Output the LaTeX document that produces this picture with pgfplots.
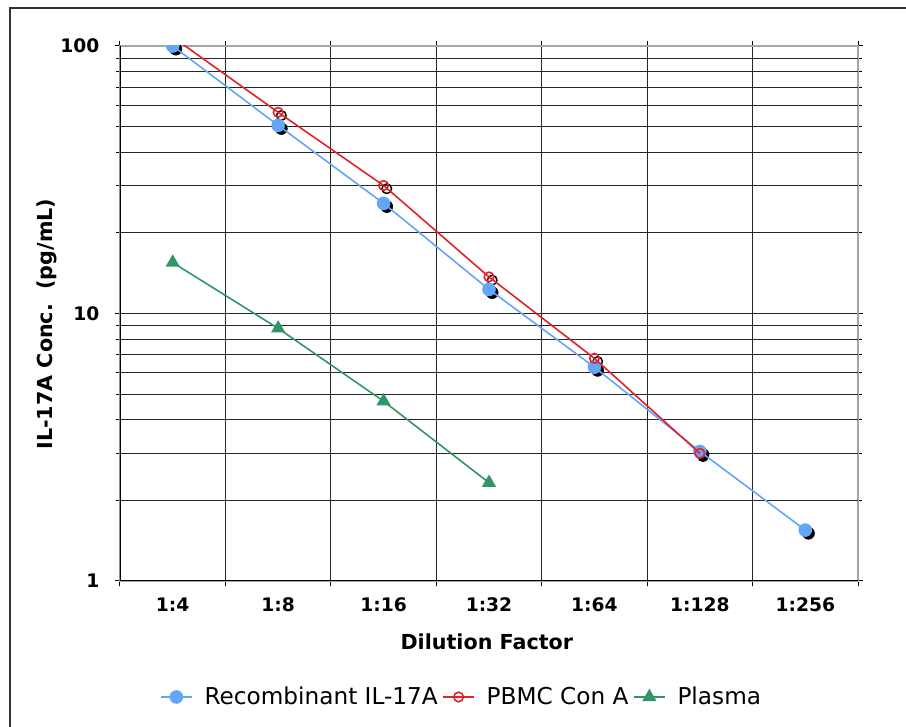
\documentclass[border=0pt]{standalone}
\usepackage{pgfplots}
\usepackage{pgfplotstable}
\pgfplotsset{compat=1.18}
\usepackage{fontspec}
\setmainfont{DejaVu Sans}

\definecolor{recblue}{RGB}{99,166,247}
\definecolor{pbmcred}{RGB}{226,34,40}
\definecolor{plasgreen}{RGB}{48,150,100}

% dilution index (1 = 1:4 ... 7 = 1:256), concentration in pg/mL
\pgfplotstableread{
x y
1 100
2 50.5
3 25.8
4 12.3
5 6.3
6 3.05
7 1.55
}\recomb
\pgfplotstableread{
x y
1 108
2 56.5
3 30.1
4 13.7
5 6.8
6 3.0
}\pbmc
\pgfplotstableread{
x y
1 15.5
2 8.8
3 4.7
4 2.33
}\plasma

\begin{document}
\begin{tikzpicture}
\begin{axis}[
    scale only axis,
    width=553.5pt, height=401.25pt,
    ymode=log,
    xmin=0.5, xmax=7.5,
    ymin=1, ymax=100,
    xtick={0.5,1.5,...,7.5},
    xticklabels={},
    extra x ticks={1,2,3,4,5,6,7},
    extra x tick labels={1:4,1:8,1:16,1:32,1:64,1:128,1:256},
    extra x tick style={grid=none, major tick length=0pt},
    ytick={1,10,100},
    yticklabels={1,10,100},
    extra y ticks={2,3,4,5,6,7,8,9,20,30,40,50,60,70,80,90},
    extra y tick labels={},
    extra y tick style={major tick length=0pt},
    grid=major,
    major grid style={black!85, line width=0.75pt},
    tick align=outside,
    major tick length=4pt,
    tick style={black, line width=0.75pt},
    axis line style={gray!70, line width=1.2pt},
    tick label style={font=\bfseries\fontsize{14}{16}\selectfont},
    xticklabel style={yshift=-9pt},
    yticklabel style={xshift=-8pt},
    xlabel={Dilution Factor},
    ylabel={IL-17A Conc.\ \ (pg/mL)},
    label style={font=\bfseries\fontsize{15.5}{18}\selectfont},
    xlabel style={at={(axis description cs:0.497,-0.114)}, anchor=center},
    ylabel style={at={(axis description cs:-0.099,0.48)}, anchor=center},
    legend columns=3,
    legend style={draw=none, at={(0.4634,-0.2168)}, anchor=center,
        font=\fontsize{17.4}{20}\selectfont,
        /tikz/every odd column/.append style={column sep=7pt},
        /tikz/every even column/.append style={column sep=1.5pt}},
    legend image code/.code={%
        \draw[#1] (0pt,0pt) -- (23pt,0pt);
        \draw[#1] plot coordinates {(11.5pt,0pt)};},
    clip=true,
    clip marker paths=true,
]
% marker shadows
\addplot[only marks, mark=*, black, mark size=4.5pt,
    mark options={xshift=2.4pt, yshift=-2.4pt}, forget plot] table {\recomb};
\addplot[only marks, mark=o, black, mark size=3.6pt, line width=1.1pt,
    mark options={xshift=2.4pt, yshift=-2.4pt}, forget plot] table {\pbmc};

\addplot[recblue, line width=1.2pt, mark=*, mark size=4.5pt,
    mark options={fill=recblue, draw=recblue}] table {\recomb};
\addlegendentry{Recombinant IL-17A}
\addplot[pbmcred, line width=1.2pt, mark=o, mark size=3.6pt,
    mark options={fill=none, draw=pbmcred}] table {\pbmc};
\addlegendentry{PBMC Con A}
\addplot[plasgreen, line width=1.2pt, mark=triangle*, mark size=5pt,
    mark options={fill=plasgreen, draw=plasgreen}] table {\plasma};
\addlegendentry{Plasma}

\draw[black, line width=1.2pt] (rel axis cs:0,1) -- (rel axis cs:0,0) -- (rel axis cs:1,0);
\end{axis}
\pgfresetboundingbox
\useasboundingbox (-90pt,-109.5pt) rectangle (589.5pt,435.75pt);
\draw[black!80, line width=1.2pt] (-82.5pt,-130pt) -- (-82.5pt,429.75pt) -- (600pt,429.75pt);
\end{tikzpicture}
\end{document}
